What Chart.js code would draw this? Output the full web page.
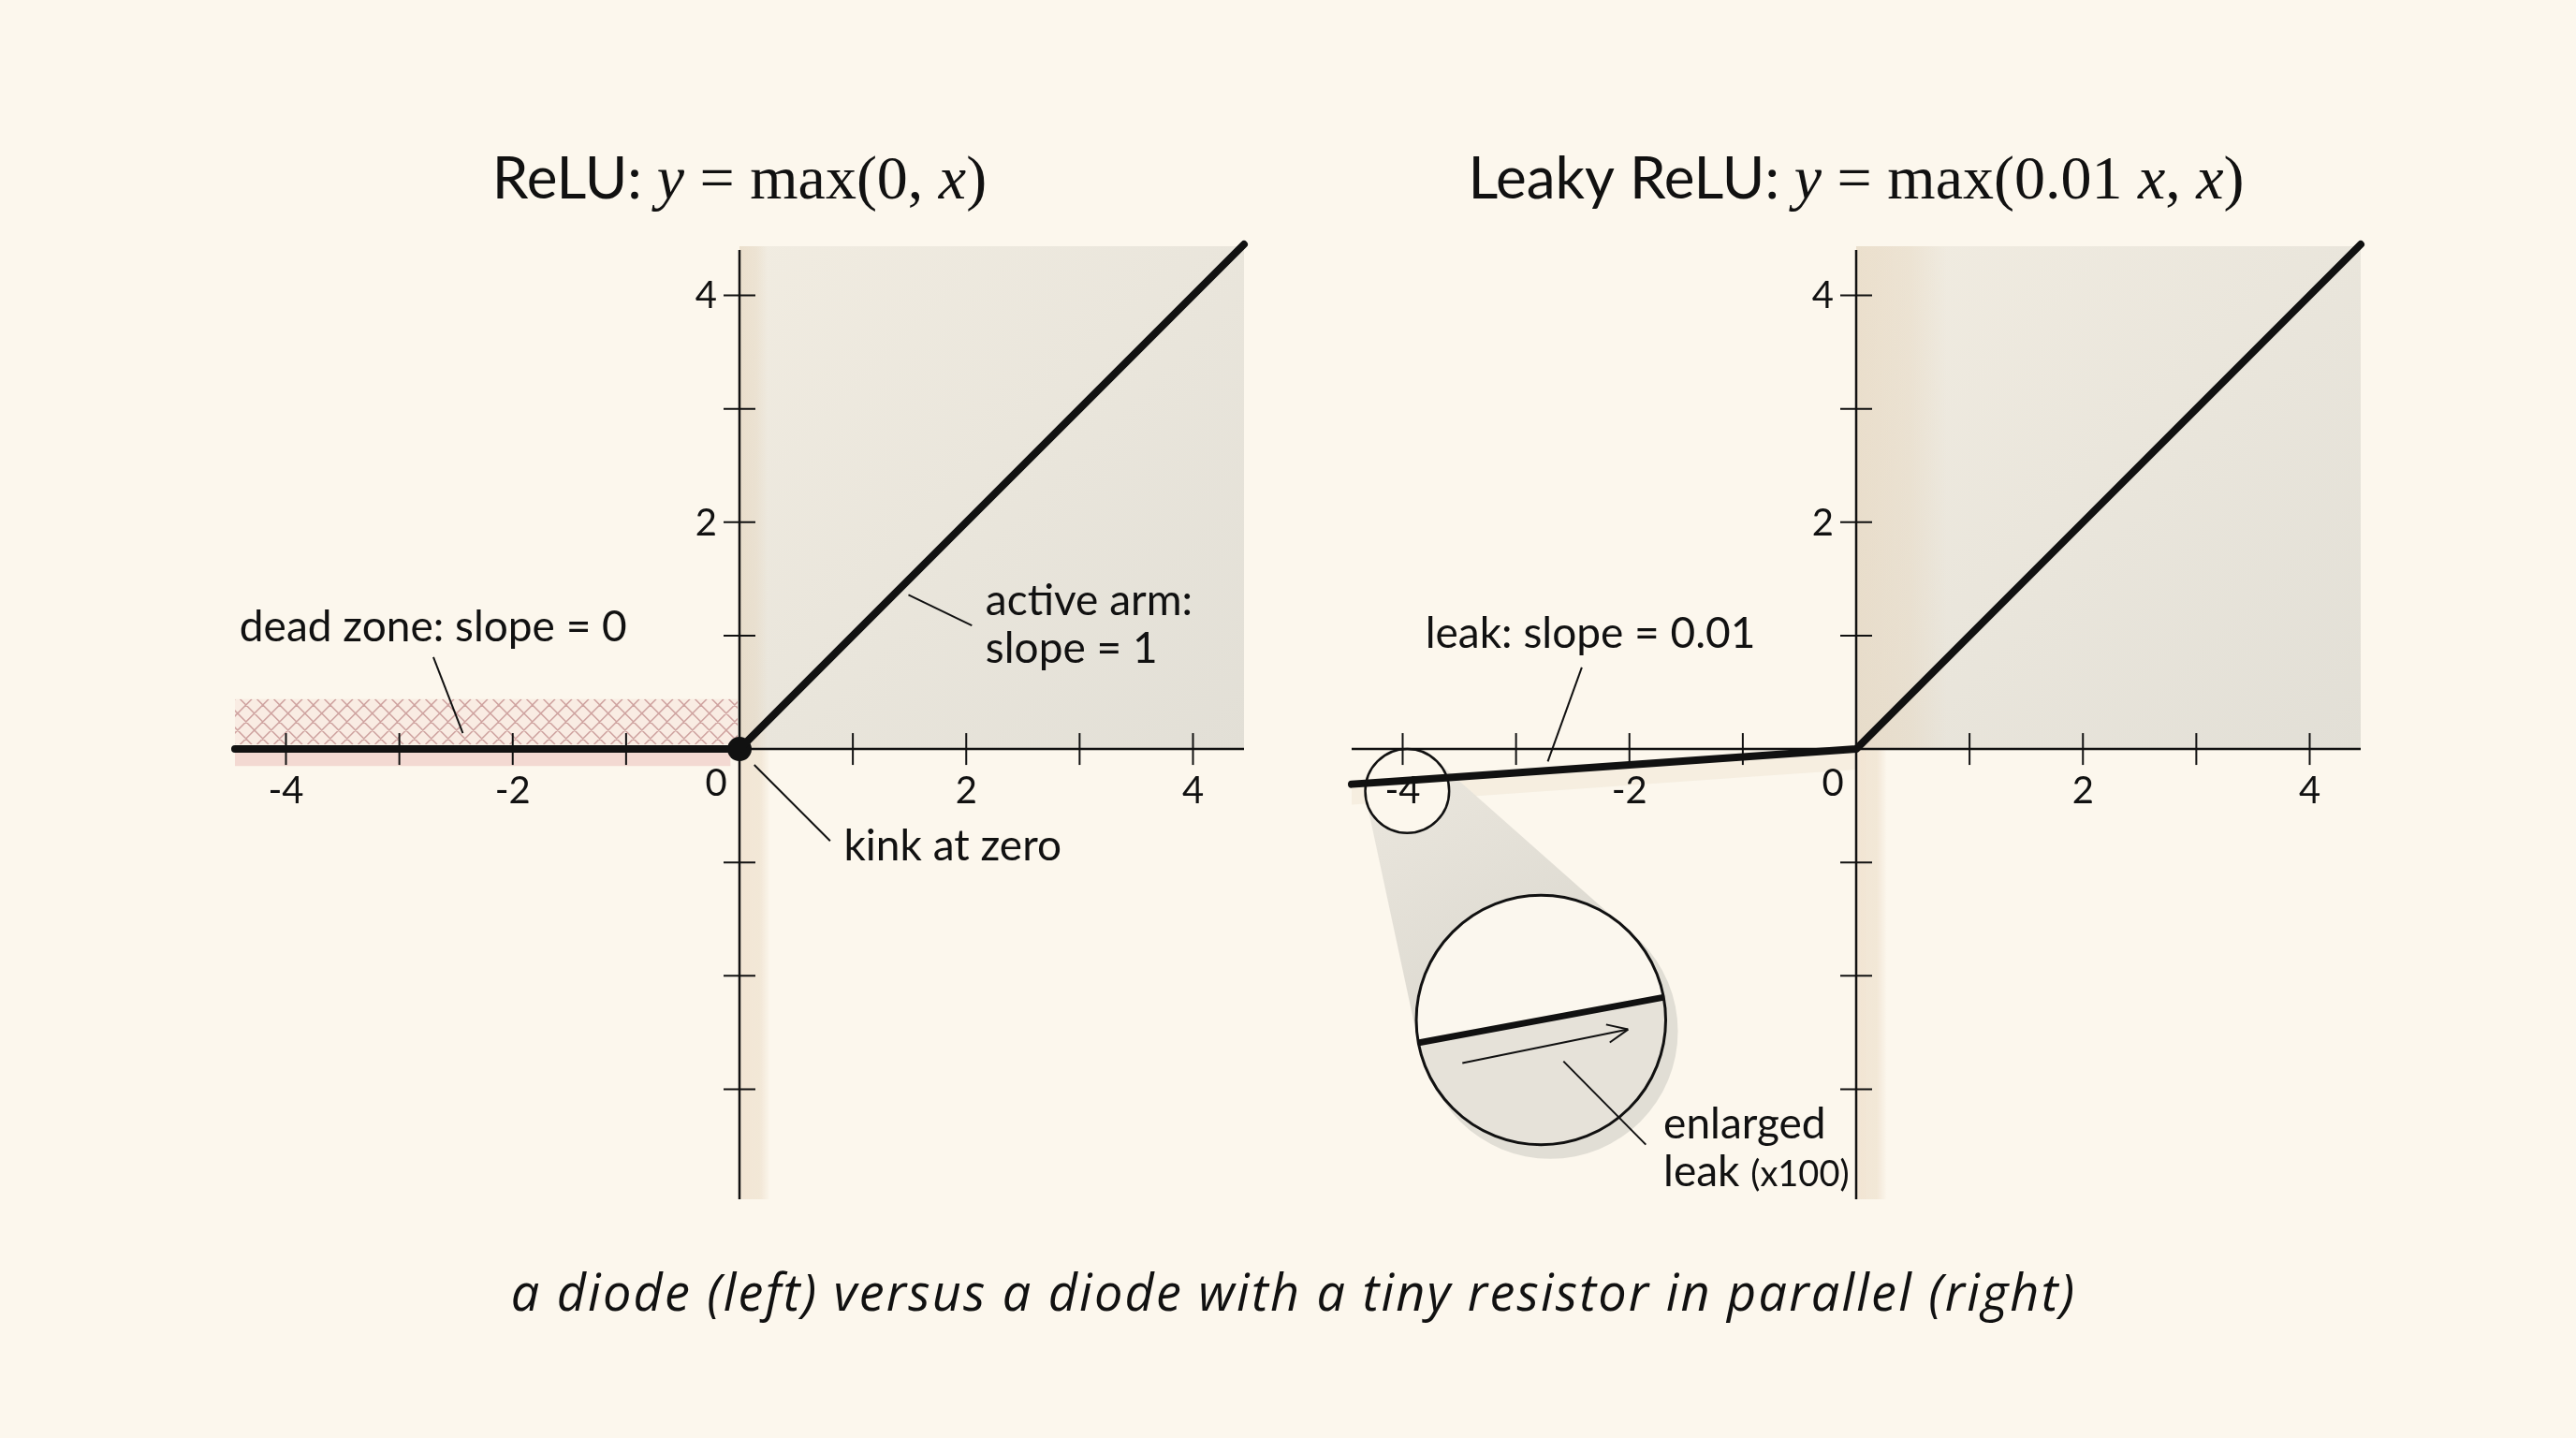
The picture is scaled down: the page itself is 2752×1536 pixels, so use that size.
<!DOCTYPE html>
<html lang="en">
<head>
<meta charset="UTF-8" />
<title>ReLU vs Leaky ReLU</title>
<script src="https://cdn.jsdelivr.net/npm/chart.js"></script>
<style>
  html, body { margin: 0; padding: 0; background: #fcf7ed; }
  body { width: 2752px; height: 1536px; position: relative; overflow: hidden; }
  canvas { position: absolute; top: 0; }
  #left { left: 0; }
  #right { left: 1376px; }
  #caption {
    position: absolute; left: 6px; top: 1352px; width: 2752px;
    text-align: center; font: italic 54px/54px "Open Sans", sans-serif; letter-spacing: 2.2px; color: #111;
  }
</style>
</head>
<body>
<canvas id="left" width="1376" height="1536"></canvas>
<canvas id="right" width="1376" height="1536"></canvas>
<div id="caption">a diode (left) versus a diode with a tiny resistor in parallel (right)</div>
<script>
// values
const xValues = [-4.45, -4, -3, -2, -1, 0, 1, 2, 3, 4, 4.45];
const reluY   = [0, 0, 0, 0, 0, 0, 1, 2, 3, 4, 4.45];
const leakyY  = [-0.31, -0.28, -0.21, -0.14, -0.07, 0, 1, 2, 3, 4, 4.45];
const xTicks      = [-4, -3, -2, -1, 1, 2, 3, 4];
const xTickLabels = ['-4', '', '-2', '', '', '2', '', '4'];
const yTicks      = [-3, -2, -1, 1, 2, 3, 4];
const yTickLabels = ['', '', '', '', '2', '', '4'];
const kinkPoint = [0, 0];

const INK = '#111';
const BG = '#fcf7ed';
const SANS = 'Lato';
const SERIF = '"Liberation Serif"';

const leftTitle = [
    ['ReLU: ', '62px ' + SANS], ['y', 'italic 66px ' + SERIF], [' = max(0, ', '66px ' + SERIF],
    ['x', 'italic 66px ' + SERIF], [')', '66px ' + SERIF]
];
const rightTitle = [
    ['Leaky ReLU: ', '62px ' + SANS], ['y', 'italic 66px ' + SERIF], [' = max(0.01 ', '66px ' + SERIF],
    ['x', 'italic 66px ' + SERIF], [', ', '66px ' + SERIF], ['x', 'italic 66px ' + SERIF], [')', '66px ' + SERIF]
];

const NOTE = '46px ' + SANS;
const leftNotes = [
    { lines: [[['dead zone: slope = 0', NOTE]]], at: [-4.41, 0.95], leader: [[-2.70, 0.81], [-2.44, 0.14]] },
    { lines: [[['active arm:', NOTE]], [['slope = 1', NOTE]]], at: [2.17, 1.18], leader: [[1.49, 1.36], [2.05, 1.09]] },
    { lines: [[['kink at zero', NOTE]]], at: [0.92, -0.98], leader: [[0.13, -0.14], [0.80, -0.81]] }
];
const rightNotes = [
    { lines: [[['leak: slope = 0.01', NOTE]]], at: [-3.80, 0.89], leader: [[-2.42, 0.72], [-2.72, -0.11]] },
    { lines: [[['enlarged', NOTE]], [['leak ', NOTE], ['(x100)', '38px ' + SANS]]], at: [-1.70, -3.43], leader: null }
];

const panels = {
    left: {
        ys: reluY, dot: true, title: leftTitle, notes: leftNotes, deadZone: true,
        padding: { left: 251, right: 47, top: 261, bottom: 255 }
    },
    right: {
        ys: leakyY, dot: false, title: rightTitle, notes: rightNotes, deadZone: false,
        padding: { left: 68, right: 230, top: 261, bottom: 255 },
        lens: { small: { x: -3.96, y: -0.37, r: 0.37 }, big: { x: -2.78, y: -2.39, r: 1.10 }, slope: 0.186 }
    }
};

function drawParts(ctx, parts, x, base, align) {
    let w = 0;
    parts.forEach(p => { ctx.font = p[1]; w += ctx.measureText(p[0]).width; });
    if (align === 'center') x -= w / 2;
    ctx.textAlign = 'left';
    ctx.textBaseline = 'alphabetic';
    parts.forEach(p => { ctx.font = p[1]; ctx.fillText(p[0], x, base); x += ctx.measureText(p[0]).width; });
}

function line(ctx, x1, y1, x2, y2) {
    ctx.beginPath(); ctx.moveTo(x1, y1); ctx.lineTo(x2, y2); ctx.stroke();
}

function lensGeometry(chart, lens) {
    const X = v => chart.scales.x.getPixelForValue(v);
    const Y = v => chart.scales.y.getPixelForValue(v);
    const u = X(1) - X(0);
    return {
        c1: { x: X(lens.small.x), y: Y(lens.small.y), r: lens.small.r * u },
        c2: { x: X(lens.big.x), y: Y(lens.big.y), r: lens.big.r * u }
    };
}

const sketch = {
    id: 'sketch',
    beforeDatasetsDraw(chart) {
        const p = panels[chart.canvas.id];
        const ctx = chart.ctx, a = chart.chartArea;
        const X = v => chart.scales.x.getPixelForValue(v);
        const Y = v => chart.scales.y.getPixelForValue(v);
        const ox = X(0), oy = Y(0);
        ctx.save();

        // title
        ctx.fillStyle = INK;
        drawParts(ctx, p.title, ox, 212, 'center');

        // wash over the active quadrant
        let g = ctx.createLinearGradient(ox, a.top, a.right, oy);
        g.addColorStop(0, '#f1ece1');
        g.addColorStop(1, '#e2dfd6');
        ctx.fillStyle = g;
        ctx.fillRect(ox, a.top + 2, a.right - ox, oy - a.top - 2);

        // warm strip along the y axis
        const warm = p.deadZone ? 0.25 : 0.8;
        g = ctx.createLinearGradient(ox, 0, X(warm), 0);
        g.addColorStop(0, 'rgba(228,208,180,0.45)');
        g.addColorStop(0.6, 'rgba(228,208,180,0.3)');
        g.addColorStop(1, 'rgba(228,208,180,0)');
        ctx.fillStyle = g;
        ctx.fillRect(ox, a.top + 2, X(warm) - ox, oy - a.top - 2);
        g = ctx.createLinearGradient(ox, 0, X(0.27), 0);
        g.addColorStop(0, 'rgba(232,214,190,0.55)');
        g.addColorStop(0.7, 'rgba(232,214,190,0.45)');
        g.addColorStop(1, 'rgba(232,214,190,0)');
        ctx.fillStyle = g;
        ctx.fillRect(ox, oy, X(0.27) - ox, a.bottom - oy);

        if (p.deadZone) {
            const x0 = X(-4.45), x1 = ox - 2, yTop = Y(0.44), yBot = Y(0.04);
            ctx.fillStyle = 'rgba(243,214,208,0.35)';
            ctx.fillRect(x0, yTop, x1 - x0, yBot - yTop);
            ctx.save();
            ctx.beginPath(); ctx.rect(x0, yTop, x1 - x0, yBot - yTop); ctx.clip();
            ctx.strokeStyle = 'rgba(185,125,125,0.65)';
            ctx.lineWidth = 1.6;
            const h = yBot - yTop;
            ctx.beginPath();
            for (let x = x0 - h; x < x1 + h; x += 18) {
                ctx.moveTo(x, yBot); ctx.lineTo(x + h, yTop);
                ctx.moveTo(x, yTop); ctx.lineTo(x + h, yBot);
            }
            ctx.stroke();
            ctx.restore();
            ctx.fillStyle = '#f3d9d2';
            ctx.fillRect(x0, Y(-0.02), X(-0.08) - x0, Y(-0.15) - Y(-0.02));
        }

        if (p.lens) {
            // faint shadow under the leaking arm
            ctx.fillStyle = 'rgba(226,210,188,0.25)';
            ctx.beginPath();
            ctx.moveTo(X(xValues[0]), Y(p.ys[0]));
            for (let i = 1; i <= 5; i++) ctx.lineTo(X(xValues[i]), Y(p.ys[i]));
            for (let i = 5; i >= 0; i--) ctx.lineTo(X(xValues[i]), Y(p.ys[i] - 0.18));
            ctx.fill();

            const { c1, c2 } = lensGeometry(chart, p.lens);
            // drop shadow of the big lens
            ctx.fillStyle = '#e1ded5';
            ctx.beginPath(); ctx.arc(c2.x + 10, c2.y + 12, c2.r + 3, 0, Math.PI * 2); ctx.fill();
            // cone between the two circles
            const dx = c2.x - c1.x, dy = c2.y - c1.y, d = Math.hypot(dx, dy);
            const th = Math.atan2(dy, dx), al = Math.acos((c1.r - c2.r) / d);
            const pt = (c, ang) => [c.x + c.r * Math.cos(ang), c.y + c.r * Math.sin(ang)];
            g = ctx.createLinearGradient(c1.x, c1.y, c2.x, c2.y);
            g.addColorStop(0, '#e9e5dc');
            g.addColorStop(1, '#dbd8cf');
            ctx.fillStyle = g;
            ctx.beginPath();
            ctx.moveTo(...pt(c1, th + al)); ctx.lineTo(...pt(c2, th + al));
            ctx.lineTo(...pt(c2, th - al)); ctx.lineTo(...pt(c1, th - al));
            ctx.closePath(); ctx.fill();
            ctx.fillStyle = BG;
            ctx.beginPath(); ctx.arc(c1.x, c1.y, c1.r, 0, Math.PI * 2); ctx.fill();
        }

        // axes
        ctx.strokeStyle = INK;
        ctx.lineWidth = 2.5;
        line(ctx, a.left, oy, a.right, oy);
        line(ctx, ox, Y(4.4), ox, a.bottom);
        ctx.lineWidth = 2;
        xTicks.forEach(v => line(ctx, X(v), oy - 17, X(v), oy + 17));
        yTicks.forEach(v => line(ctx, ox - 17, Y(v), ox + 17, Y(v)));

        // tick labels
        ctx.fillStyle = INK;
        ctx.font = '40px ' + SANS;
        ctx.textBaseline = 'middle';
        ctx.textAlign = 'center';
        xTicks.forEach((v, i) => { if (xTickLabels[i]) ctx.fillText(xTickLabels[i], X(v), oy + 45); });
        ctx.fillText('0', ox - 25, oy + 37);
        ctx.textAlign = 'right';
        yTicks.forEach((v, i) => { if (yTickLabels[i]) ctx.fillText(yTickLabels[i], ox - 24, Y(v) + 1); });
        ctx.restore();
    },
    afterDatasetsDraw(chart) {
        const p = panels[chart.canvas.id];
        const ctx = chart.ctx;
        const X = v => chart.scales.x.getPixelForValue(v);
        const Y = v => chart.scales.y.getPixelForValue(v);
        ctx.save();
        ctx.strokeStyle = INK;
        ctx.fillStyle = INK;

        if (p.lens) {
            const { c1, c2 } = lensGeometry(chart, p.lens);
            ctx.lineWidth = 2.5;
            ctx.beginPath(); ctx.arc(c1.x, c1.y, c1.r, 0, Math.PI * 2); ctx.stroke();

            const s = p.lens.slope;
            ctx.save();
            ctx.beginPath(); ctx.arc(c2.x, c2.y, c2.r, 0, Math.PI * 2); ctx.clip();
            ctx.fillStyle = '#fbf7ee';
            ctx.fillRect(c2.x - c2.r, c2.y - c2.r, 2 * c2.r, 2 * c2.r);
            ctx.fillStyle = '#e6e2d9';
            ctx.beginPath();
            ctx.moveTo(c2.x - c2.r, c2.y + s * c2.r); ctx.lineTo(c2.x + c2.r, c2.y - s * c2.r);
            ctx.lineTo(c2.x + c2.r, c2.y + c2.r); ctx.lineTo(c2.x - c2.r, c2.y + c2.r);
            ctx.fill();
            ctx.lineWidth = 7;
            line(ctx, c2.x - c2.r, c2.y + s * c2.r, c2.x + c2.r, c2.y - s * c2.r);
            ctx.restore();

            // arrow along the magnified leak
            ctx.lineWidth = 2;
            const ax = c2.x - 84, ay = c2.y + 46, bx = c2.x + 93, by = c2.y + 10;
            line(ctx, ax, ay, bx, by);
            const ang = Math.atan2(by - ay, bx - ax);
            [0.42, -0.42].forEach(t => line(ctx, bx, by, bx - 24 * Math.cos(ang + t), by - 24 * Math.sin(ang + t)));

            ctx.lineWidth = 3;
            ctx.beginPath(); ctx.arc(c2.x, c2.y, c2.r, 0, Math.PI * 2); ctx.stroke();
            ctx.lineWidth = 2;
            line(ctx, c2.x + 24, c2.y + 44, c2.x + 112, c2.y + 133);
        }

        // annotations
        p.notes.forEach(n => {
            ctx.fillStyle = INK;
            n.lines.forEach((parts, i) => drawParts(ctx, parts, X(n.at[0]), Y(n.at[1]) + i * 51, 'left'));
            if (n.leader) {
                ctx.lineWidth = 2;
                line(ctx, X(n.leader[0][0]), Y(n.leader[0][1]), X(n.leader[1][0]), Y(n.leader[1][1]));
            }
        });
        ctx.restore();
    }
};

function makeChart(id) {
    const p = panels[id];
    const datasets = [{
        data: xValues.map((x, i) => ({ x: x, y: p.ys[i] })),
        showLine: true, borderColor: INK, borderWidth: 8, pointRadius: 0,
        borderCapStyle: 'round', borderJoinStyle: 'round', tension: 0, clip: false
    }];
    if (p.dot) {
        datasets.push({
            data: [{ x: kinkPoint[0], y: kinkPoint[1] }],
            pointRadius: 13, backgroundColor: INK, borderWidth: 0, clip: false
        });
    }
    return new Chart(document.getElementById(id), {
        type: 'scatter',
        data: { datasets: datasets },
        options: {
            responsive: false, animation: false, events: [],
            layout: { padding: p.padding },
            scales: {
                x: { type: 'linear', min: -4.45, max: 4.45, display: false },
                y: { type: 'linear', min: -3.97, max: 4.45, display: false }
            },
            plugins: { legend: { display: false }, tooltip: { enabled: false } }
        },
        plugins: [sketch]
    });
}

makeChart('left');
makeChart('right');
</script>
</body>
</html>
